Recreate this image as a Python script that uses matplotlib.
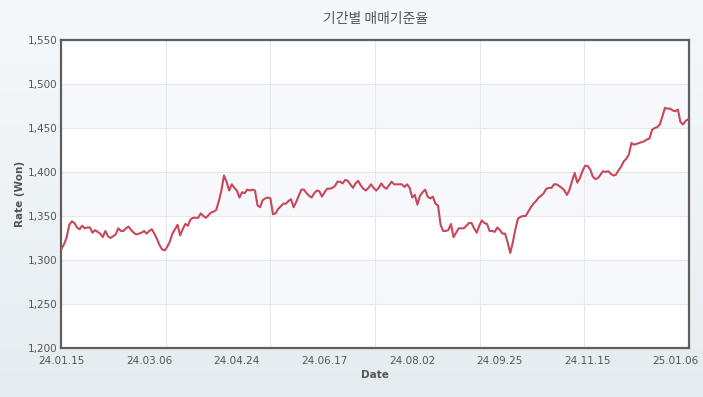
import numpy as np
import matplotlib
matplotlib.use('Agg')
from matplotlib import pyplot as plt
from matplotlib.colors import LinearSegmentedColormap

plt.rcParams['font.family'] = ['DejaVu Sans', 'Noto Sans CJK KR']

'''data read off the chart (one point per business day)'''
rates = [
    1313, 1318, 1326, 1340, 1344, 1342, 1337, 1335, 1339, 1336,
    1337, 1337, 1331, 1334, 1332, 1330, 1326, 1333, 1327, 1325,
    1327, 1329, 1336, 1333, 1333, 1336, 1338, 1334, 1331, 1329,
    1330, 1331, 1333, 1330, 1333, 1335, 1330, 1324, 1317, 1312,
    1311, 1315, 1321, 1330, 1335, 1340, 1328, 1335, 1341, 1339,
    1346, 1348, 1348, 1348, 1353, 1350, 1348, 1351, 1354, 1355,
    1357, 1367, 1379, 1396, 1389, 1379, 1386, 1382, 1379, 1371,
    1377, 1376, 1380, 1379, 1380, 1379, 1362, 1360, 1368, 1370,
    1371, 1370, 1352, 1353, 1358, 1361, 1364, 1364, 1367, 1369,
    1360, 1366, 1373, 1380, 1380, 1376, 1373, 1371, 1376, 1379,
    1378, 1372, 1377, 1381, 1381, 1382, 1384, 1389, 1389, 1387,
    1391, 1390, 1386, 1382, 1387, 1390, 1385, 1381, 1379, 1382,
    1386, 1382, 1379, 1382, 1387, 1383, 1381, 1385, 1389, 1386,
    1386, 1386, 1386, 1383, 1386, 1382, 1371, 1374, 1363, 1373,
    1377, 1380, 1372, 1370, 1372, 1364, 1362, 1340, 1333, 1333,
    1334, 1341, 1326, 1331, 1336, 1336, 1336, 1339, 1342, 1342,
    1336, 1331, 1339, 1345, 1342, 1341, 1333, 1333, 1332, 1337,
    1334, 1330, 1330, 1320, 1308, 1320, 1335, 1347, 1349, 1350,
    1350, 1355, 1360, 1364, 1367, 1371, 1373, 1376, 1381, 1382,
    1382, 1386, 1386, 1384, 1382, 1379, 1374, 1380, 1390, 1399,
    1388, 1393, 1401, 1407, 1407, 1403, 1395, 1392, 1393, 1397,
    1401, 1400, 1401, 1398, 1396, 1397, 1402, 1406, 1412, 1415,
    1420, 1433, 1431, 1432, 1433, 1434, 1435, 1437, 1438, 1448,
    1450, 1451, 1454, 1463, 1473, 1472, 1472, 1470, 1469, 1471,
    1457, 1454, 1458, 1460,
]
date_labels = ['24.01.15', '24.03.06', '24.04.24', '24.06.17',
               '24.08.02', '24.09.25', '24.11.15', '25.01.06']
label_step = 34  # a label every 34 business days
y_ticks = [1200, 1250, 1300, 1350, 1400, 1450, 1500, 1550]

title = '기간별 매매기준율'
line_color = '#c9475b'
text_color = '#555555'

fig = plt.figure(figsize=(7.03, 3.97), dpi=100)

# soft gradient background behind everything
bg = fig.add_axes([0, 0, 1, 1], zorder=-10)
cmap = LinearSegmentedColormap.from_list('bg', ['#f6f9fb', '#e5ecf0'])
bg.imshow(np.linspace(0, 1, 200).reshape(-1, 1), aspect='auto', cmap=cmap,
          extent=[0, 1, 0, 1])
bg.axis('off')

ax = fig.add_axes([0.0868, 0.1234, 0.8932, 0.7758])
ax.set_facecolor('white')

x = np.arange(len(rates))
x0, x1 = -0.2, len(rates) - 0.7
ax.set_xlim(x0, x1)
ax.set_ylim(y_ticks[0], y_ticks[-1])

# alternating bands
for lo in y_ticks[1:-1:2]:
    ax.axhspan(lo, lo + 50, color='#f6f8fb', zorder=0, lw=0)

ax.plot(x, rates, color=line_color, lw=1.5, zorder=3, solid_joinstyle='round')

ax.set_yticks(y_ticks)
ax.set_yticklabels(['{:,}'.format(v) for v in y_ticks])
ax.set_xticks(np.arange(0, len(rates), label_step)[:len(date_labels)])
ax.set_xticklabels(date_labels)

# vertical grid splits the plot into 6 equal parts
ax.set_xticks(np.linspace(x0, x1, 7)[1:-1], minor=True)
ax.grid(axis='y', which='major', color='#e6e8ec', lw=0.8, zorder=1)
ax.grid(axis='x', which='minor', color='#e6e8ec', lw=0.8, zorder=1)
ax.set_axisbelow(True)

ax.tick_params(which='both', length=0, labelsize=7.5, colors=text_color)
ax.tick_params(axis='x', pad=6)
ax.tick_params(axis='y', pad=2.5)

for s in ax.spines.values():
    s.set_color('#5f5f5f')
    s.set_linewidth(1.6)

ax.set_ylabel('Rate (Won)', fontsize=7.5, fontweight='bold', color=text_color)
ax.yaxis.set_label_coords(-0.057, 0.5)
ax.set_xlabel('Date', fontsize=7.5, fontweight='bold', color=text_color)
ax.xaxis.set_label_coords(0.5, -0.072)

fig.text(376 / 703, 1 - 19 / 397, title, ha='center', va='center',
         fontsize=10, color=text_color, family=['Noto Sans CJK KR', 'DejaVu Sans'])

plt.savefig('out.png', dpi=100)
